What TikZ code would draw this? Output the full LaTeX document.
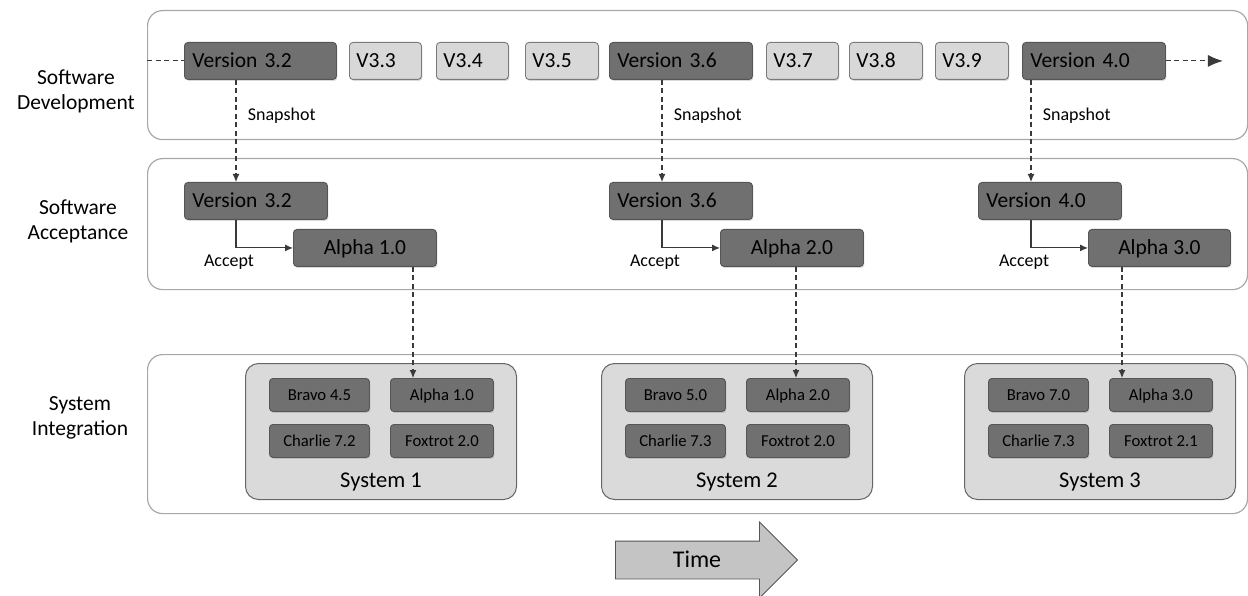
\documentclass[tikz,border=0pt]{standalone}
\usepackage{fontspec}
\setmainfont{Carlito}
\usetikzlibrary{arrows.meta,shapes.arrows,shadows}
\definecolor{laneedge}{HTML}{A8A8A8}
\definecolor{darkfill}{HTML}{707070}
\definecolor{darkedge}{HTML}{555555}
\definecolor{lightfill}{HTML}{D8D8D8}
\definecolor{lightedge}{HTML}{7A7A7A}
\definecolor{sysfill}{HTML}{DADADA}
\definecolor{sysedge}{HTML}{666666}
\definecolor{arrowfill}{HTML}{C4C4C4}
\definecolor{lineclr}{HTML}{3A3A3A}

\begin{document}
\begin{tikzpicture}[x=1pt,y=-1pt]
\tikzstyle{every node}+=[font=\fontsize{21.5}{25}\selectfont]
\tikzstyle{lane}=[draw=laneedge, line width=1.2pt, rounded corners=15pt, inner sep=0pt, anchor=north west]
\tikzstyle{side}=[align=center]
\tikzstyle{rel}=[draw=darkedge, fill=darkfill, line width=0.9pt, rounded corners=3.5pt, minimum height=37pt, inner xsep=8pt, inner ysep=0pt, text height=13.8pt, text depth=0pt, align=left, anchor=north west, drop shadow={shadow xshift=1pt,shadow yshift=-1.5pt,opacity=0.3}]
\tikzstyle{relc}=[rel, align=center, minimum width=143pt]
\tikzstyle{build}=[rel, draw=lightedge, fill=lightfill, inner xsep=7pt]
\tikzstyle{sysbox}=[draw=sysedge, fill=sysfill, line width=1pt, rounded corners=13pt, inner sep=0pt, minimum width=271pt, minimum height=136pt, anchor=north west]
\tikzstyle{comp}=[rel, align=center, minimum height=33pt, text height=10.7pt, font=\fontsize{16.7}{19}\selectfont]
\tikzstyle{syslbl}=[font=\fontsize{22.5}{26}\selectfont]
\tikzstyle{small}=[font=\fontsize{18}{21}\selectfont]
\tikzstyle{snap}=[draw=lineclr, line width=1.1pt, dash pattern=on 5pt off 3.5pt, -{Latex[length=8pt,width=7pt]}]
\tikzstyle{acc}=[draw=lineclr, line width=1.1pt, -{Latex[length=8pt,width=7pt]}]
\tikzstyle{timearrow}=[single arrow, draw=darkedge, fill=arrowfill, line width=0.9pt, minimum height=182pt, single arrow head extend=19pt, inner xsep=6pt, inner ysep=10.75pt, text height=15.5pt, text depth=0pt, font=\fontsize{24}{28}\selectfont]
\useasboundingbox (0,0) rectangle (1248,596);

\node[lane, minimum width=1100pt, minimum height=129pt] (dev) at (147,10) {};
\node[lane, minimum width=1100pt, minimum height=131pt] (acc) at (147,158) {};
\node[lane, minimum width=1100pt, minimum height=159pt] (int) at (147,354) {};
\node[side] (devlbl) at (76,91) {Software\\Development};
\node[side] (acclbl) at (78,221) {Software\\Acceptance};
\node[side] (intlbl) at (80,418) {System\\Integration};

\node[rel, text width=136pt] (d32) at (184,42) {Version 3.2};
\node[build, text width=58pt] (v33) at (349,42) {V3.3};
\node[build, text width=58pt] (v34) at (436,42) {V3.4};
\node[build, text width=59pt] (v35) at (525,42) {V3.5};
\node[rel, text width=127pt] (d36) at (609,42) {Version 3.6};
\node[build, text width=58pt] (v37) at (766,42) {V3.7};
\node[build, text width=59pt] (v38) at (849,42) {V3.8};
\node[build, text width=59pt] (v39) at (935,42) {V3.9};
\node[rel, text width=127pt] (d40) at (1022,42) {Version 4.0};
\coordinate (next) at ([xshift=57pt]d40.east);
\draw[snap, -] (dev.west |- d32.west) -- (d32.west);
\draw[snap, -{Latex[length=15pt,width=12pt]}] (d40.east) -- (next);

\node[rel, text width=127pt] (a32) at (184,182) {Version 3.2};
\node[rel, text width=127pt] (a36) at (609,182) {Version 3.6};
\node[rel, text width=127pt] (a40) at (978,182) {Version 4.0};
\node[relc] (al1) at (293,229) {Alpha 1.0};
\node[relc] (al2) at (720,229) {Alpha 2.0};
\node[relc, minimum width=142pt] (al3) at (1088,229) {Alpha 3.0};

\coordinate (s1) at ([xshift=52pt]a32.north west);
\coordinate (s2) at ([xshift=53pt]a36.north west);
\coordinate (s3) at ([xshift=53pt]a40.north west);
\draw[snap] (s1 |- d32.south) -- (s1) node[small, pos=0.35, anchor=west, xshift=8pt] (snap1) {Snapshot};
\draw[snap] (s2 |- d36.south) -- (s2) node[small, pos=0.35, anchor=west, xshift=8pt] (snap2) {Snapshot};
\draw[snap] (s3 |- d40.south) -- (s3) node[small, pos=0.35, anchor=west, xshift=8pt] (snap3) {Snapshot};
\draw[acc] (s1 |- a32.south) |- (al1.west) node[small, pos=0.5, xshift=-7pt, yshift=-14pt] (ok1) {Accept};
\draw[acc] (s2 |- a36.south) |- (al2.west) node[small, pos=0.5, xshift=-7pt, yshift=-14pt] (ok2) {Accept};
\draw[acc] (s3 |- a40.south) |- (al3.west) node[small, pos=0.5, xshift=-7pt, yshift=-14pt] (ok3) {Accept};

\node[sysbox] (sys1) at (245,363) {};
\node[comp, minimum width=100pt] (sb1) at (269,378) {Bravo 4.5};
\node[comp, minimum width=103pt] (sa1) at (390,378) {Alpha 1.0};
\node[comp, minimum width=100pt] (sc1) at (269,424) {Charlie 7.2};
\node[comp, minimum width=103pt] (sf1) at (390,424) {Foxtrot 2.0};
\node[syslbl] (sys1lbl) at ([yshift=18pt]sys1.south) {System 1};

\node[sysbox] (sys2) at (601,363) {};
\node[comp, minimum width=100pt] (sb2) at (625,378) {Bravo 5.0};
\node[comp, minimum width=103pt] (sa2) at (746,378) {Alpha 2.0};
\node[comp, minimum width=100pt] (sc2) at (625,424) {Charlie 7.3};
\node[comp, minimum width=103pt] (sf2) at (746,424) {Foxtrot 2.0};
\node[syslbl] (sys2lbl) at ([yshift=18pt]sys2.south) {System 2};

\node[sysbox] (sys3) at (964,363) {};
\node[comp, minimum width=100pt] (sb3) at (988,378) {Bravo 7.0};
\node[comp, minimum width=103pt] (sa3) at (1109,378) {Alpha 3.0};
\node[comp, minimum width=100pt] (sc3) at (988,424) {Charlie 7.3};
\node[comp, minimum width=103pt] (sf3) at (1109,424) {Foxtrot 2.1};
\node[syslbl] (sys3lbl) at ([yshift=18pt]sys3.south) {System 3};

\coordinate (t1) at ([xshift=23pt]sa1.north west);
\coordinate (t2) at ([xshift=50pt]sa2.north west);
\coordinate (t3) at ([xshift=13pt]sa3.north west);
\draw[snap] (t1 |- al1.south) -- (t1);
\draw[snap] (t2 |- al2.south) -- (t2);
\draw[snap] (t3 |- al3.south) -- (t3);

\node[timearrow, anchor=tail] (time) at (615,560) {Time};
\end{tikzpicture}
\end{document}
